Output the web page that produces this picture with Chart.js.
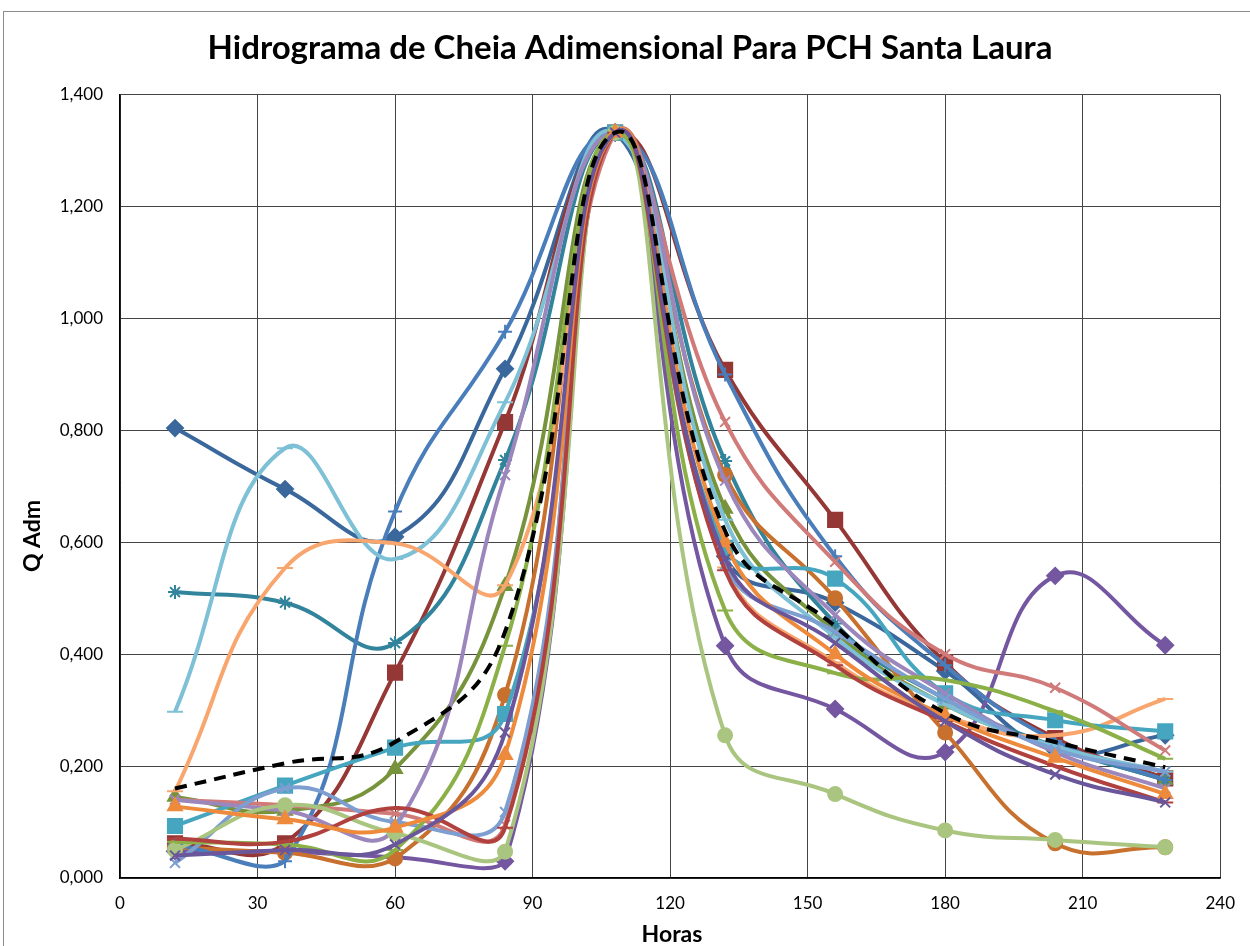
<!DOCTYPE html>
<html>
<head>
<meta charset="utf-8">
<script src="https://cdn.jsdelivr.net/npm/chart.js@4/dist/chart.umd.min.js"></script>
<style>
  body{margin:0;background:#fff;overflow:hidden;width:1250px;height:946px;position:relative}
  #frame{position:absolute;left:3px;top:11px;width:1400px;height:1100px;border:1px solid #8c8c8c}
  #cv{position:absolute;left:0;top:0}
</style>
</head>
<body>
<div id="frame"></div>
<canvas id="cv" width="1250" height="946"></canvas>
<script>
'use strict'

// horas de cada ponto
const hours = [12,36,60,84,108,132,156,180,204,228]

// vazoes adimensionais
const qAzulEscuro  = [0.804,0.695,0.610,0.910,1.332,0.575,0.492,0.370,0.228,0.255]
const qVermelho    = [0.062,0.062,0.367,0.815,1.332,0.908,0.640,0.385,0.250,0.178]
const qOliva       = [0.145,0.120,0.195,0.522,1.332,0.660,0.440,0.310,0.235,0.175]
const qRoxo        = [0.048,0.047,0.037,0.030,1.332,0.415,0.302,0.225,0.540,0.416]
const qPetroleo    = [0.511,0.492,0.420,0.747,1.332,0.745,0.455,0.320,0.235,0.175]
const qLaranjaEsc  = [0.055,0.045,0.035,0.327,1.332,0.720,0.500,0.260,0.062,0.055]
const qAzul        = [0.060,0.030,0.655,0.976,1.332,0.900,0.575,0.380,0.245,0.175]
const qAzulClaro   = [0.297,0.768,0.570,0.850,1.332,0.640,0.430,0.310,0.235,0.190]
const qLaranjaCl   = [0.155,0.554,0.598,0.523,1.332,0.555,0.385,0.290,0.255,0.320]
const qTurquesa    = [0.093,0.165,0.233,0.293,1.332,0.590,0.535,0.330,0.282,0.262]
const qRosa        = [0.140,0.130,0.115,0.095,1.332,0.815,0.565,0.400,0.340,0.228]
const qLavanda     = [0.140,0.120,0.090,0.720,1.332,0.710,0.470,0.330,0.225,0.160]
const qCentaurea   = [0.027,0.160,0.100,0.118,1.332,0.560,0.440,0.320,0.230,0.190]
const qVerdeClaro  = [0.050,0.130,0.080,0.047,1.332,0.255,0.150,0.085,0.068,0.055]
const qVerdeLima   = [0.065,0.060,0.050,0.415,1.332,0.478,0.366,0.354,0.298,0.213]
const qVermEsc     = [0.070,0.065,0.125,0.090,1.332,0.550,0.380,0.280,0.200,0.135]
const qLaranja     = [0.128,0.105,0.090,0.220,1.332,0.600,0.400,0.290,0.215,0.150]
const qVioleta     = [0.040,0.050,0.060,0.260,1.332,0.570,0.420,0.280,0.185,0.135]
const qMedia       = [0.160,0.205,0.243,0.440,1.332,0.620,0.450,0.295,0.243,0.198]

const series = [
  [qAzulEscuro,'#3A679C','rectRot'],
  [qVermelho,'#953735','rect'],
  [qOliva,'#77933C','triangle'],
  [qRoxo,'#7457A0','rectRot'],
  [qPetroleo,'#31849B','star'],
  [qLaranjaEsc,'#C8702E','circle'],
  [qAzul,'#4A7EBB','cross'],
  [qAzulClaro,'#7EC0D6','line'],
  [qLaranjaCl,'#F9A66E','line'],
  [qTurquesa,'#46A6C0','rect'],
  [qRosa,'#D07B79','crossRot'],
  [qLavanda,'#9C87BC','crossRot'],
  [qCentaurea,'#7C9ED0','crossRot'],
  [qVerdeClaro,'#A9C57F','circle'],
  [qVerdeLima,'#8CB048','line'],
  [qVermEsc,'#B0413E','line'],
  [qLaranja,'#EE8A3C','triangle'],
  [qVioleta,'#6A569A','crossRot']
]

// tamanho de cada marcador
const raio = {rect:10,rectRot:8,triangle:8,circle:7,star:7,cross:7,crossRot:7,line:8}

// a primeira serie fica por baixo, como no Excel
const datasets = series.map(function(s,i){
  return {
    label:'Serie '+(i+1),
    data: hours.map(function(h,j){ return {x:h,y:s[0][j]} }),
    borderColor:s[1],
    backgroundColor:s[1],
    pointStyle:s[2],
    pointRadius:raio[s[2]],
    pointBorderWidth:2,
    borderWidth:4,
    order:series.length-i
  }
})
datasets.push({
  label:'Media',
  data: hours.map(function(h,j){ return {x:h,y:qMedia[j]} }),
  borderColor:'#000',
  borderDash:[12,8],
  borderWidth:4,
  pointRadius:0,
  order:0
})

const axisTitles = {
  id:'axisTitles',
  afterDraw(chart){
    const ctx = chart.ctx
    ctx.save()
    ctx.fillStyle = '#000'
    ctx.font = 'bold 23px Lato'
    ctx.textAlign = 'center'
    ctx.textBaseline = 'middle'
    ctx.fillText('Horas', 672, 935)
    ctx.translate(33, 536)
    ctx.rotate(-Math.PI/2)
    ctx.fillText('Q Adm', 0, 0)
    ctx.restore()
  }
}

const tickFont = {family:"'Liberation Sans Narrow', Lato", size:17}

const config = {
  type:'line',
  data:{datasets:datasets},
  options:{
    responsive:false,
    animation:false,
    layout:{padding:{left:35,top:29,right:25,bottom:0}},
    elements:{line:{tension:0.45,fill:false}},
    plugins:{
      legend:{display:false},
      tooltip:{enabled:false},
      title:{
        display:true,
        text:'Hidrograma de Cheia Adimensional Para PCH Santa Laura',
        color:'#000',
        font:{family:'Lato',size:33,weight:'bold'},
        padding:{top:0,bottom:26}
      }
    },
    scales:{
      x:{
        type:'linear',min:0,max:240,
        ticks:{stepSize:30,color:'#000',font:tickFont,padding:15,maxRotation:0},
        grid:{color:'#444',lineWidth:1,drawTicks:false},
        border:{color:'#000',width:1.5},
        afterFit(s){ s.height = 68 }
      },
      y:{
        min:0,max:1.4,
        ticks:{stepSize:0.2,color:'#000',font:tickFont,padding:17,
          callback:function(v){ return v.toFixed(3).replace('.',',') }},
        grid:{color:'#444',lineWidth:1,drawTicks:false},
        border:{color:'#000',width:1.5},
        afterFit(s){ s.width = 85 }
      }
    }
  },
  plugins:[axisTitles]
}

let hidrograma = new Chart(document.querySelector('#cv'),config)
</script>
</body>
</html>
